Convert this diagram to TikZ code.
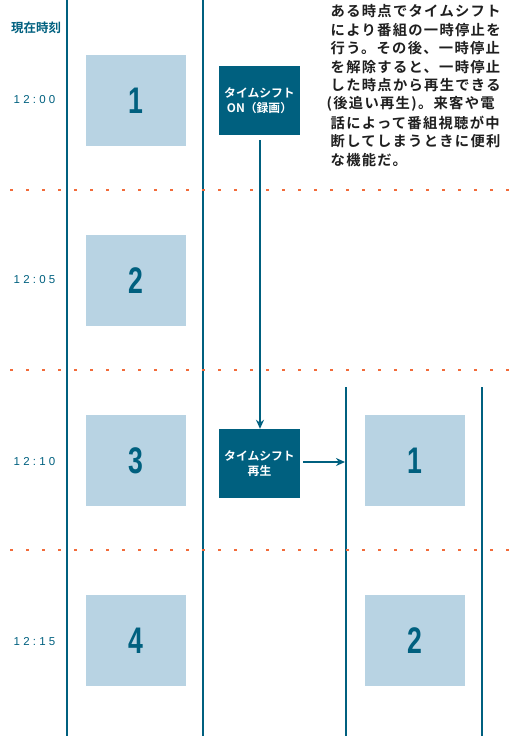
\documentclass[tikz,border=0pt]{standalone}
\usepackage{fontspec}
\setmainfont{Liberation Sans}
\newfontfamily\cjk{Noto Sans CJK JP}[BoldFont={* Bold}]
\newfontfamily\cjksp{Noto Sans CJK JP}[BoldFont={* Bold},LetterSpace=9]
\newfontfamily\timefont{Liberation Sans}[LetterSpace=28]
\usetikzlibrary{arrows.meta}
\definecolor{teal}{HTML}{00607F}
\definecolor{lblue}{HTML}{B8D3E3}
\definecolor{dots}{HTML}{F26B3A}
\tikzset{
  vline/.style={draw=teal,line width=2.2pt},
  sepline/.style={draw=dots,line width=2.4pt,dash pattern=on 3pt off 13pt},
  frame/.style={fill=lblue,minimum width=100pt,minimum height=91pt,inner sep=0pt,text=teal,
    font=\fontsize{37}{37}\selectfont\bfseries},
  dbox/.style={fill=teal,minimum width=81pt,minimum height=69pt,inner sep=0pt,text=white,align=center,
    font=\cjk\bfseries\fontsize{11.8}{15.5}\selectfont},
  tlabel/.style={text=teal,font=\timefont\fontsize{11.5}{11.5}\selectfont,anchor=center},
  para/.style={anchor=west,inner sep=0pt,text=black!88,font=\cjksp\bfseries\fontsize{14.3}{14.3}\selectfont},
  arr/.style={draw=teal,line width=2pt,-{Stealth[length=9pt,width=8pt]}}
}
\newcommand{\numtxt}[1]{\scalebox{0.72}[1]{#1}}
\begin{document}
\begin{tikzpicture}[x=1pt,y=-1pt]
\useasboundingbox (0,0) rectangle (510,736);
% vertical lines
\draw[vline] (67,0) -- (67,736);
\draw[vline] (203,0) -- (203,736);
\draw[vline] (346,387) -- (346,736);
\draw[vline] (482,387) -- (482,736);
% separators
\foreach \y in {190,370,550} \draw[sepline] (10,\y) -- (510,\y);
% header
\node[text=teal,font=\cjk\bfseries\fontsize{12.5}{12.5}\selectfont] (hdr) at (36,27.5) {現在時刻};
% time labels
\node[tlabel] (t0) at (34.5,100) {12:00};
\node[tlabel] (t1) at (34.5,280) {12:05};
\node[tlabel] (t2) at (34.5,462) {12:10};
\node[tlabel] (t3) at (34.5,642) {12:15};
% frames left
\node[frame] (f1) at (136,100.5) {\numtxt{1}};
\node[frame] (f2) at (136,280.5) {\numtxt{2}};
\node[frame] (f3) at (136,460.5) {\numtxt{3}};
\node[frame] (f4) at (136,640.5) {\numtxt{4}};
% frames right
\node[frame] (g1) at (415,460.5) {\numtxt{1}};
\node[frame] (g2) at (415,640.5) {\numtxt{2}};
% dark boxes
\node[dbox] (on) at (259.5,100.5) {タイムシフト\\ON（録画）};
\node[dbox] (play) at (259.5,463.5) {タイムシフト\\再生};
% arrows
\draw[arr] ([xshift=0.5pt,yshift=-5pt]on.south) -- ([xshift=0.5pt]play.north);
\coordinate (rl) at (345,462);
\draw[arr] ([xshift=3pt,yshift=1.5pt]play.east) -- (rl);
% paragraph
\node[para] (p1) at (330.5,11) {ある時点でタイムシフト};
\node[para] (p2) at (330.5,29.6) {により番組の一時停止を};
\node[para] (p3) at (330.5,48.2) {行う。その後、一時停止};
\node[para] (p4) at (330.5,66.8) {を解除すると、一時停止};
\node[para] (p5) at (330.5,85.4) {した時点から再生できる};
\node[para] (p6) at (326.5,104) {(後追い再生)。来客や電};
\node[para] (p7) at (330.5,122.6) {話によって番組視聴が中};
\node[para] (p8) at (330.5,141.2) {断してしまうときに便利};
\node[para] (p9) at (330.5,159.8) {な機能だ。};
\end{tikzpicture}
\end{document}
